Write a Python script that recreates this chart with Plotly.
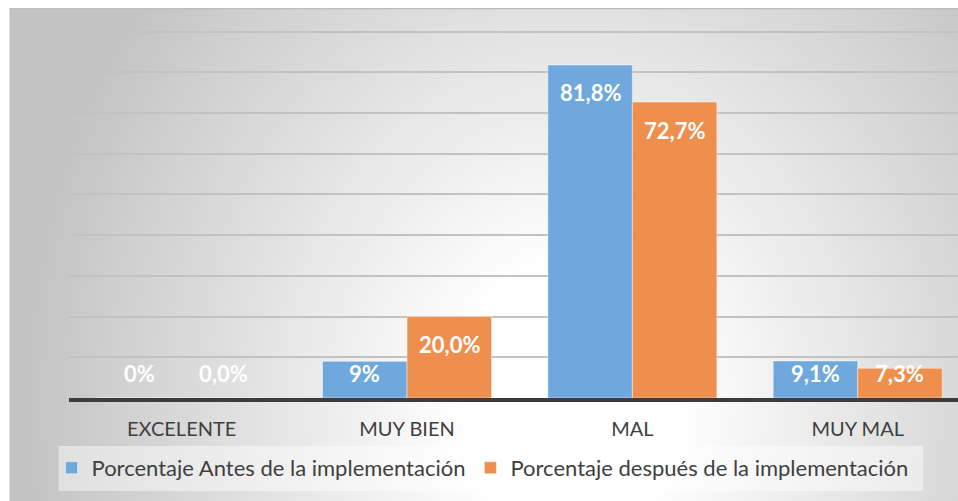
import base64
import plotly.graph_objects as go

# ---- data -------------------------------------------------------------
categorias = ["EXCELENTE", "MUY BIEN", "MAL", "MUY MAL"]
antes = [0, 9, 81.8, 9.1]
despues = [0.0, 20.0, 72.7, 7.3]
decimales_antes = [0, 0, 1, 1]
decimales_despues = [1, 1, 1, 1]
serie_antes = "Porcentaje Antes de la implementación"
serie_despues = "Porcentaje después de la implementación"

# ---- geometry (pixels) ------------------------------------------------
W, H = 958, 501
PLOT_L, PLOT_R, PLOT_T, PLOT_B = 68.5, 958, 8, 398
Y_MAX = 95.8
PX_PER_UNIT = (PLOT_B - PLOT_T) / Y_MAX
FONT = "Lato"
AZUL, NARANJA = "#6FA8DC", "#EF8F4E"
TEXTO = "#404040"
BARGAP = 0.25


def px_x(p):
    return (p - PLOT_L) / (PLOT_R - PLOT_L)


def px_y(p):
    return (PLOT_B - p) / (PLOT_B - PLOT_T)


def etiqueta(v, d):
    return f"{v:.{d}f}".replace(".", ",") + "%"


# soft radial background of the chart area
bw, bh = W - 9, H - 8
svg = f"""<svg xmlns='http://www.w3.org/2000/svg' width='{bw}' height='{bh}'>
<defs><radialGradient id='g' gradientUnits='userSpaceOnUse' cx='0' cy='0' r='1'
 gradientTransform='translate(560 390) scale(540 640)'>
<stop offset='0' stop-color='#ffffff'/><stop offset='0.2' stop-color='#ffffff'/>
<stop offset='1' stop-color='#c4c4c4'/></radialGradient></defs>
<rect width='{bw}' height='{bh}' fill='url(#g)'/>
<line x1='0' y1='0.5' x2='{bw}' y2='0.5' stroke='#bdbdbd' stroke-width='1.5'/>
<line x1='0.5' y1='0' x2='0.5' y2='{bh}' stroke='#bdbdbd' stroke-width='1.5'/>
</svg>"""
fondo = "data:image/svg+xml;base64," + base64.b64encode(svg.encode()).decode()

fig = go.Figure()
for nombre, vals, color in [(serie_antes, antes, AZUL), (serie_despues, despues, NARANJA)]:
    fig.add_trace(go.Bar(
        x=categorias, y=vals, name=nombre,
        marker=dict(color=color, line=dict(color="rgba(255,255,255,0.45)", width=1)),
        hoverinfo="skip",
    ))

# data labels: white bold inside the top of each bar
cat_w = (PLOT_R - PLOT_L) / 3.945
bar_w = cat_w * (1 - BARGAP) / 2
for vals, decs, shift in [(antes, decimales_antes, -bar_w / 2), (despues, decimales_despues, bar_w / 2)]:
    for c, v, d in zip(categorias, vals, decs):
        y_lbl = max(v - 28 / PX_PER_UNIT, 25 / PX_PER_UNIT)
        fig.add_annotation(
            x=c, y=y_lbl, xref="x", yref="y", xshift=shift,
            text=f"<b>{etiqueta(v, d)}</b>", showarrow=False,
            font=dict(family=FONT, size=22, color="white"),
        )

# legend box
fig.add_shape(type="rect", xref="paper", yref="paper",
              x0=px_x(58), x1=px_x(923), y0=px_y(491), y1=px_y(446),
              fillcolor="rgba(255,255,255,0.45)", line=dict(width=0), layer="below")

fig.add_layout_image(dict(
    source=fondo, xref="paper", yref="paper",
    x=px_x(9), y=px_y(8), sizex=px_x(W) - px_x(9), sizey=px_y(8) - px_y(H),
    xanchor="left", yanchor="top", sizing="stretch", layer="below",
))

fig.update_layout(
    width=W, height=H,
    margin=dict(l=PLOT_L, r=W - PLOT_R, t=PLOT_T, b=H - PLOT_B),
    paper_bgcolor="white", plot_bgcolor="rgba(0,0,0,0)",
    barmode="group", bargap=BARGAP, bargroupgap=0,
    font=dict(family=FONT, color=TEXTO),
    showlegend=True,
    legend=dict(orientation="h", x=px_x(51), xanchor="left", y=px_y(468), yanchor="middle",
                bgcolor="rgba(0,0,0,0)", font=dict(size=22, color=TEXTO),
                traceorder="normal"),
    xaxis=dict(range=[-0.5, 3.445], showline=True, linecolor="#3c3c3c", linewidth=3.5,
               showgrid=False, ticks="", tickfont=dict(size=20, color=TEXTO),
               ticklabelstandoff=10, fixedrange=True),
    yaxis=dict(range=[0, Y_MAX], dtick=10, showgrid=True, gridcolor="#c2c2c2", gridwidth=2,
               zeroline=False, showticklabels=False, fixedrange=True),
)

fig.write_html("out.html")
